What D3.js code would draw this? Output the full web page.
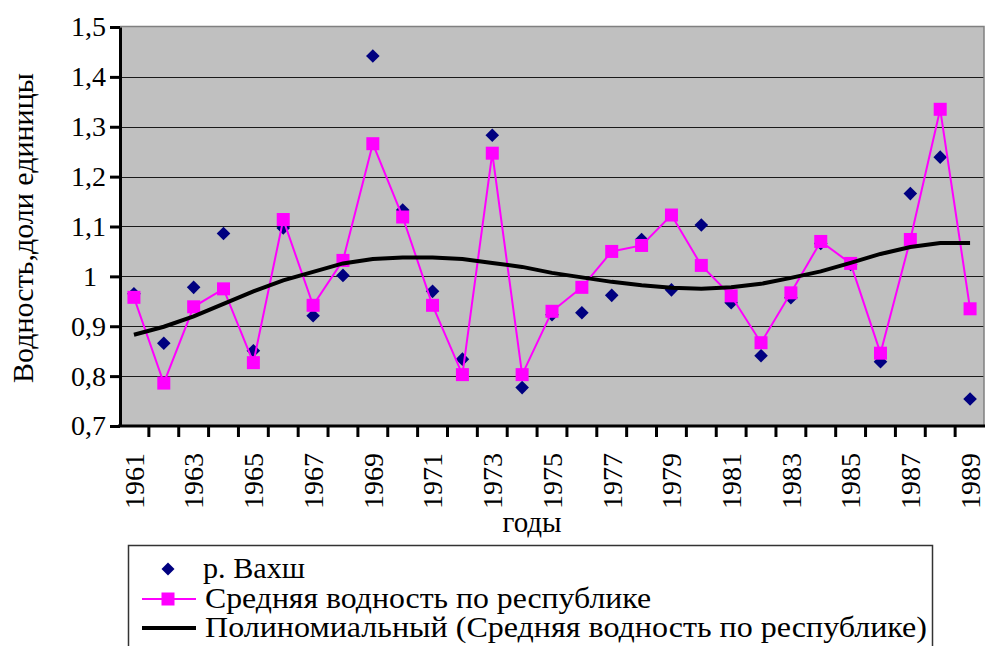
<!DOCTYPE html>
<html>
<head>
<meta charset="utf-8">
<script src="https://cdn.jsdelivr.net/npm/d3@7"></script>
<style>
  @font-face {
    font-family: 'ChartSerif';
    src: local('Liberation Serif'), local('LiberationSerif'), local('LiberationSerif-Regular');
  }
  body { margin: 0; background: #fff; }
</style>
</head>
<body>
<script>
// categories
const years = [1961, 1962, 1963, 1964, 1965, 1966, 1967, 1968, 1969, 1970,
  1971, 1972, 1973, 1974, 1975, 1976, 1977, 1978, 1979, 1980,
  1981, 1982, 1983, 1984, 1985, 1986, 1987, 1988, 1989];
const yearLabels = [1961, 1963, 1965, 1967, 1969, 1971, 1973, 1975,
  1977, 1979, 1981, 1983, 1985, 1987, 1989];

// р. Вахш
const vakhsh = [0.965, 0.866, 0.978, 1.086, 0.851, 1.097, 0.921, 1.002, 1.442, 1.133,
  0.970, 0.834, 1.283, 0.777, 0.923, 0.927, 0.962, 1.074, 0.973, 1.103,
  0.947, 0.841, 0.957, 1.066, 1.024, 0.829, 1.166, 1.239, 0.754];

// Средняя водность по республике
const average = [0.958, 0.786, 0.939, 0.975, 0.827, 1.114, 0.942, 1.032, 1.266, 1.119,
  0.942, 0.803, 1.247, 0.803, 0.930, 0.978, 1.050, 1.062, 1.123, 1.022,
  0.961, 0.867, 0.967, 1.070, 1.026, 0.846, 1.074, 1.335, 0.935];

// Полиномиальный тренд
const trend = [0.883, 0.899, 0.920, 0.945, 0.970, 0.992, 1.009, 1.026, 1.035, 1.038,
  1.038, 1.035, 1.027, 1.019, 1.007, 0.998, 0.989, 0.982, 0.977, 0.975,
  0.978, 0.985, 0.997, 1.010, 1.027, 1.045, 1.059, 1.067, 1.067];

const yTicks = [0.7, 0.8, 0.9, 1.0, 1.1, 1.2, 1.3, 1.4, 1.5];

const legendItems = [
  { key: 'vakhsh', label: 'р. Вахш', width: 102 },
  { key: 'average', label: 'Средняя водность по республике', width: 446 },
  { key: 'trend', label: 'Полиномиальный (Средняя водность по республике)', width: 722 },
];

const W = 985;
const H = 646;
const fontCss = '"Liberation Serif", ChartSerif, "Times New Roman", Tinos, FreeSerif';
const plot = { left: 120, right: 984, top: 26, bottom: 426 };

const serif = (sel, size) => sel
  .attr('font-family', 'Liberation Serif')
  .attr('font-size', size)
  .style('font-family', fontCss)
  .style('font-size', `${size}px`);

const svg = d3.select('body').append('svg')
  .attr('width', W)
  .attr('height', H)
  .style('display', 'block');

svg.append('rect')
  .attr('width', W)
  .attr('height', H)
  .attr('fill', '#fff');

const x = d3.scaleBand()
  .domain(years)
  .range([119, 985])
  .padding(0);

const y = d3.scaleLinear()
  .domain([0.7, 1.5])
  .range([plot.bottom, plot.top + 1]);

const cx = d => x(d) + x.bandwidth() / 2;

const ru = d3.formatLocale({ decimal: ',', thousands: ' ', grouping: [3], currency: ['', ''] });
const fmt = ru.format('.2~r');

// plot area
svg.append('rect')
  .attr('x', plot.left)
  .attr('y', plot.top)
  .attr('width', plot.right - plot.left)
  .attr('height', plot.bottom - plot.top)
  .attr('fill', '#c0c0c0');

// grid
svg.append('g')
  .selectAll('line')
  .data(yTicks.filter(v => v > 0.7 && v < 1.5))
  .join('line')
  .attr('x1', plot.left)
  .attr('x2', plot.right)
  .attr('y1', d => Math.round(y(d)) + 0.5)
  .attr('y2', d => Math.round(y(d)) + 0.5)
  .attr('stroke', '#1a1a1a')
  .attr('stroke-width', 1.2);

// plot border (top, right)
svg.append('path')
  .attr('d', `M${plot.left},${plot.top + 0.5}H${plot.right}V${plot.bottom}`)
  .attr('fill', 'none')
  .attr('stroke', '#808080')
  .attr('stroke-width', 1.5);

// y axis
const yAxis = d3.axisLeft(y)
  .tickValues(yTicks)
  .tickFormat(fmt)
  .tickSizeInner(10)
  .tickSizeOuter(0)
  .tickPadding(4);

const yAx = svg.append('g')
  .attr('transform', `translate(${plot.left},0)`)
  .call(yAxis);

yAx.select('.domain')
  .attr('stroke', '#000')
  .attr('stroke-width', 3);
yAx.selectAll('.tick line')
  .attr('stroke', '#000')
  .attr('stroke-width', 3);
yAx.selectAll('.tick text')
  .call(serif, 28)
  .attr('fill', '#000')
  .attr('x', d => (d === 1 ? -23 : -14));

// x axis: labels on odd years
const xAxis = d3.axisBottom(x)
  .tickValues(yearLabels)
  .tickSize(0)
  .tickSizeOuter(0);

const xAx = svg.append('g')
  .attr('transform', `translate(0,${plot.bottom})`)
  .call(xAxis);

xAx.select('.domain').remove();
xAx.selectAll('.tick text')
  .call(serif, 28)
  .attr('fill', '#000')
  .attr('transform', 'rotate(-90)')
  .attr('text-anchor', 'end')
  .attr('x', -27)
  .attr('y', 0)
  .attr('dy', '0.35em');

// boundary ticks between categories
svg.append('g')
  .selectAll('line')
  .data(years.slice(1))
  .join('line')
  .attr('x1', d => x(d))
  .attr('x2', d => x(d))
  .attr('y1', plot.bottom)
  .attr('y2', plot.bottom + 11)
  .attr('stroke', '#000')
  .attr('stroke-width', 3);

svg.append('line')
  .attr('x1', plot.left - 2)
  .attr('x2', plot.right + 1)
  .attr('y1', plot.bottom)
  .attr('y2', plot.bottom)
  .attr('stroke', '#000')
  .attr('stroke-width', 3);

// axis titles
svg.append('text')
  .attr('transform', `translate(33,${(plot.top + plot.bottom) / 2 + 2}) rotate(-90)`)
  .attr('text-anchor', 'middle')
  .call(serif, 30)
  .text('Водность,доли единицы');

svg.append('text')
  .attr('x', (plot.left + plot.right) / 2 - 20)
  .attr('y', 532)
  .attr('text-anchor', 'middle')
  .call(serif, 29)
  .text('годы');

// series: р. Вахш (diamonds)
const diamond = s => `M0,${-s}L${s},0L0,${s}L${-s},0Z`;

svg.append('g')
  .selectAll('path')
  .data(years.map((yr, i) => ({ yr, v: vakhsh[i] })))
  .join('path')
  .attr('d', diamond(6.8))
  .attr('transform', d => `translate(${cx(d.yr)},${y(d.v)})`)
  .attr('fill', '#000080');

// series: average (line + squares)
const avgData = years.map((yr, i) => ({ yr, v: average[i] }));

const line = d3.line()
  .x(d => cx(d.yr))
  .y(d => y(d.v));

svg.append('path')
  .datum(avgData)
  .attr('d', line)
  .attr('fill', 'none')
  .attr('stroke', '#ff00ff')
  .attr('stroke-width', 2);

svg.append('g')
  .selectAll('rect')
  .data(avgData)
  .join('rect')
  .attr('x', d => cx(d.yr) - 6.5)
  .attr('y', d => y(d.v) - 6.5)
  .attr('width', 13)
  .attr('height', 13)
  .attr('fill', '#ff00ff');

// polynomial trend
svg.append('path')
  .datum(years.map((yr, i) => ({ yr, v: trend[i] })))
  .attr('d', line)
  .attr('fill', 'none')
  .attr('stroke', '#000')
  .attr('stroke-width', 4);

// legend
const legend = svg.append('g');

legend.append('rect')
  .attr('x', 128.5)
  .attr('y', 545.5)
  .attr('width', 804)
  .attr('height', 110)
  .attr('fill', '#fff')
  .attr('stroke', '#333')
  .attr('stroke-width', 1.5);

const rowY = [569, 599, 628];

const rows = legend.selectAll('g.row')
  .data(legendItems)
  .join('g')
  .attr('class', 'row')
  .attr('transform', (d, i) => `translate(0,${rowY[i]})`);

rows.filter(d => d.key === 'vakhsh')
  .append('path')
  .attr('d', diamond(6.5))
  .attr('transform', 'translate(168,0)')
  .attr('fill', '#000080');

rows.filter(d => d.key === 'average')
  .append('line')
  .attr('x1', 142).attr('x2', 196)
  .attr('stroke', '#ff00ff')
  .attr('stroke-width', 2);

rows.filter(d => d.key === 'average')
  .append('rect')
  .attr('x', 161.5).attr('y', -6.5)
  .attr('width', 13).attr('height', 13)
  .attr('fill', '#ff00ff');

rows.filter(d => d.key === 'trend')
  .append('line')
  .attr('x1', 142).attr('x2', 196)
  .attr('stroke', '#000')
  .attr('stroke-width', 4);

rows.append('text')
  .attr('x', (d, i) => (i === 0 ? 203 : 205))
  .attr('y', 9)
  .attr('textLength', d => d.width)
  .attr('lengthAdjust', 'spacingAndGlyphs')
  .call(serif, 30)
  .text(d => d.label);
</script>
</body>
</html>
